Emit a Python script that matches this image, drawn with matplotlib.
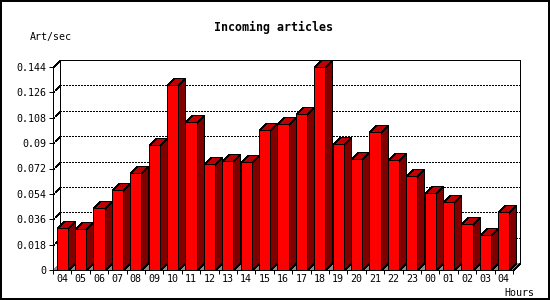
#!/usr/bin/env python3
"""Incoming articles per hour, drawn as a GD-style 3D bar chart."""

import matplotlib
matplotlib.use("Agg")
import matplotlib.pyplot as plt
from matplotlib.patches import Polygon, Rectangle

hours = ["04", "05", "06", "07", "08", "09", "10", "11", "12", "13", "14", "15",
         "16", "17", "18", "19", "20", "21", "22", "23", "00", "01", "02", "03", "04"]
rate = [0.0296, 0.0289, 0.0440, 0.0567, 0.0688, 0.0887, 0.1310, 0.1048, 0.0750,
        0.0771, 0.0764, 0.0993, 0.1036, 0.1107, 0.1442, 0.0894, 0.0785, 0.0979,
        0.0778, 0.0664, 0.0544, 0.0480, 0.0324, 0.0246, 0.0409]
y_ticks = [0, 0.018, 0.036, 0.054, 0.072, 0.09, 0.108, 0.126, 0.144]

plt.rcParams["patch.antialiased"] = False
plt.rcParams["lines.antialiased"] = False
FONT = "DejaVu Sans Mono"
PX = 0.72  # one pixel in points at dpi 100

W, H = 550, 300
left, right, top, bottom = 53, 520, 60, 270   # plot box in pixels (incl. depth)
slot_px = 18.4
ymax = y_ticks[-1]
yscale = (bottom - 67) / ymax                 # px per unit
depth = 7
DX = depth / slot_px
DY = depth / yscale
n = len(rate)

fig = plt.figure(figsize=(W / 100, H / 100), dpi=100)
fig.patch.set_facecolor("white")
ax = fig.add_axes([left / W, (H - bottom) / H, (right - left) / W, (bottom - top) / H])
ax.set_xlim(-0.5, -0.5 + (right - left) / slot_px)
ax.set_ylim(0, (bottom - top) / yscale)
for s in ax.spines.values():
    s.set_visible(False)
ax.patch.set_visible(False)

x0, x1 = -0.5, n - 0.5

# back wall grid (dotted) and left wall diagonals
for v in y_ticks[1:-1]:
    ax.plot([x0 + DX, x1 + DX], [v + DY, v + DY], color="black", lw=PX,
            linestyle=(0, (2, 2)), zorder=1, snap=True)
    ax.plot([x0, x0 + DX], [v, v + DY], color="black", lw=PX,
            linestyle=(0, (2, 2)), zorder=1, snap=True)

# floor
ax.add_patch(Polygon([(x0, 0), (x1, 0), (x1 + DX, DY), (x0 + DX, DY)],
                     closed=True, facecolor="#8c8c8c", edgecolor="none", zorder=2,
                     snap=True))

# frame
ax.plot([x0, x0, x0 + DX, x1 + DX, x1 + DX, x1, x0],
        [0, ymax, ymax + DY, ymax + DY, DY, 0, 0],
        color="black", lw=PX, zorder=3, clip_on=False, snap=True)
ax.plot([x0 + DX, x0 + DX], [DY, ymax + DY], color="black", lw=PX, zorder=3,
        snap=True)

# bars
bw = 0.6
for i, v in enumerate(rate):
    z = 4 + i
    xl, xr = i - bw / 2, i + bw / 2
    ax.bar(i, v, width=bw, color="#ff0000", edgecolor="black", linewidth=PX,
           zorder=z + 0.5)
    ax.add_patch(Polygon([(xr, 0), (xr + DX, DY), (xr + DX, v + DY), (xr, v)],
                         closed=True, facecolor="#800000", edgecolor="black",
                         linewidth=PX, zorder=z, clip_on=False, snap=True))
    ax.add_patch(Polygon([(xl, v), (xr, v), (xr + DX, v + DY), (xl + DX, v + DY)],
                         closed=True, facecolor="#c00000", edgecolor="black",
                         linewidth=PX, zorder=z, clip_on=False, snap=True))

# ticks
ax.set_yticks(y_ticks)
ax.set_yticklabels(["%g" % t for t in y_ticks], fontfamily=FONT, fontsize=7.2)
ax.set_xticks([k - 0.5 for k in range(n + 1)])
ax.set_xticklabels([])
ax.set_xticks(range(n), minor=True)
ax.set_xticklabels(hours, minor=True, fontfamily=FONT, fontsize=7.2)
ax.tick_params(axis="both", which="major", length=4 * PX, width=PX, pad=3 * PX,
               color="black")
ax.tick_params(axis="x", which="minor", length=0, pad=4 * PX)
ax.tick_params(axis="y", right=False)

fig.text(274 / W, 1 - 27 / H, "Incoming articles", ha="center", va="center",
         fontfamily=FONT, fontsize=8.4, fontweight="bold")
fig.text(30 / W, 1 - 37 / H, "Art/sec", ha="left", va="center",
         fontfamily=FONT, fontsize=7.2)
fig.text(519 / W, 1 - 293 / H, "Hours", ha="center", va="center",
         fontfamily=FONT, fontsize=7.2)

fig.add_artist(Rectangle((0, 0), 1, 1, transform=fig.transFigure, fill=False,
                         edgecolor="black", linewidth=4 * PX))

fig.savefig("out.png", dpi=100)
